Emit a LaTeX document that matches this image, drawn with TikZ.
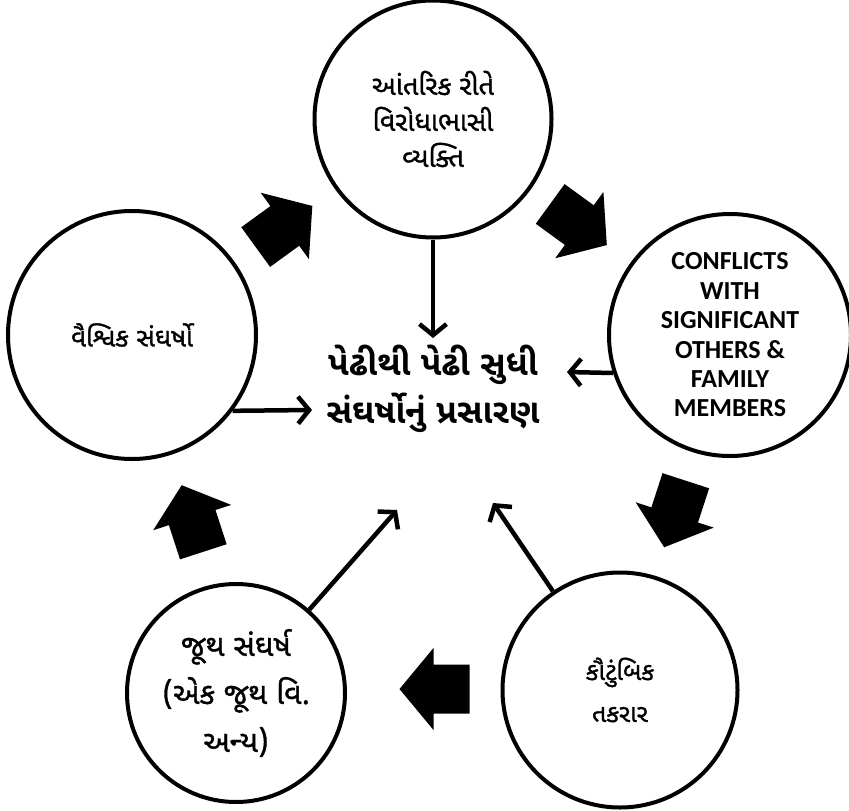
\documentclass[tikz,border=0pt]{standalone}
\usepackage{fontspec}
\usetikzlibrary{arrows.meta,positioning}
\newfontfamily\gujfont[Script=Gujarati, FakeBold=1.2]{Noto Sans Gujarati UI}
\newfontfamily\gujbold[Script=Gujarati]{Noto Sans Gujarati UI Bold}
\newfontfamily\engfont{Carlito}
\definecolor{ink}{HTML}{000000}
\tikzset{
  every node/.append style = {text=ink},
  % --- circles ------------------------------------------------------------
  ring/.style     = {circle, draw=ink, line width=4pt, fill=white,
                     inner sep=0pt, align=center,
                     font=\gujfont\fontsize{27}{36}\selectfont},
  hub/.style      = {align=center, inner sep=0pt,
                     font=\gujbold\fontsize{34}{48}\selectfont},
  % --- relations ----------------------------------------------------------
  feed/.style     = {draw=ink, line width=4.5pt,
                     -{Straight Barb[length=11pt,width=27pt]}},
  bigarrow/.pic   = {\fill[ink] (-35,-24.5) -- (1,-24.5) -- (1,-41) -- (35,0)
                     -- (1,41) -- (1,24.5) -- (-35,24.5) -- cycle;},
}

\begin{document}
\begin{tikzpicture}[x=1pt, y=1pt]
\useasboundingbox (0,0) rectangle (849,-811);

% ==================== five conflict circles ================================
\node[ring, minimum size=237] (person) at (433,-119)
     {આંતરિક રીતે\\વિરોધાભાસી\\વ્યક્તિ};
\node[ring, minimum size=242, font=\engfont\bfseries\fontsize{26}{29.4}\selectfont]
     (others) at (730,-335)
     {CONFLICTS\\WITH\\SIGNIFICANT\\OTHERS \&\\FAMILY\\MEMBERS};
\node[ring, minimum size=235, font=\gujfont\fontsize{25}{42}\selectfont]
     (family) at (620,-690) {કૌટુંબિક\\તકરાર};
\node[ring, minimum size=218, font=\gujfont\fontsize{30}{48}\selectfont]
     (group) at (236,-693) {જૂથ સંઘર્ષ\\(એક જૂથ વિ.\\અન્ય)};
\node[ring, minimum size=248, font=\gujfont\fontsize{26}{36}\selectfont]
     (world) at (132,-335) {વૈશ્વિક સંઘર્ષો};

% centre
\node[hub] (spread) at (433,-389) {પેઢીથી પેઢી સુધી\\સંઘર્ષોનું પ્રસારણ};

% ==================== cycle arrows ========================================
\foreach \x/\y/\a in {284/-226.5/36, 578.5/-224.5/-36, 675/-514/-108,
                      434.5/-689/180, 192.5/-518.5/108}{
  \pic[rotate=\a] at (\x,\y) {bigarrow};}

% ==================== arrows into the centre ==============================
\coordinate (tipT)  at (433,-338);
\coordinate (tipR)  at (567,-372);
\coordinate (tipL)  at (312,-410);
\coordinate (tipBL) at (397,-510);
\coordinate (tipBR) at (493,-503);

\draw[feed] (person) -- (tipT);
\draw[feed] (others.-162) -- (tipR);
\draw[feed] (world.-37) -- (tipL);
\draw[feed] (group) -- (tipBL);
\draw[feed] (family) -- (tipBR);

\end{tikzpicture}
\end{document}
